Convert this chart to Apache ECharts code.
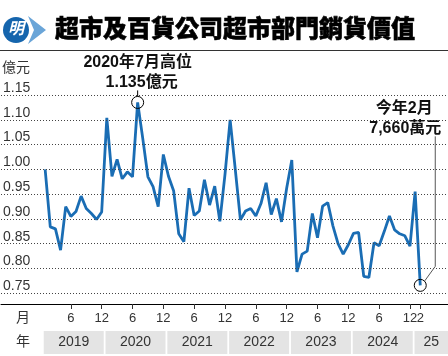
<!DOCTYPE html>
<html><head><meta charset="utf-8">
<script src="https://cdn.jsdelivr.net/npm/echarts@6/dist/echarts.min.js"></script>
<style>html,body{margin:0;padding:0;background:#fff}#c{width:448px;height:356px}</style>
</head><body><div id="c"></div>
<script>
// ---- data ----
const values = [
  1.000, 0.884, 0.880, 0.837, 0.925, 0.905, 0.915, 0.946, 0.921, 0.911, 0.899, 0.914, // 2019
  1.104, 0.986, 1.020, 0.981, 0.995, 0.985, 1.135, 1.062, 0.985, 0.965, 0.925, 1.030, // 2020
  0.986, 0.957, 0.870, 0.854, 0.962, 0.907, 0.916, 0.979, 0.928, 0.966, 0.895, 0.990, // 2021
  1.100, 1.000, 0.898, 0.916, 0.921, 0.906, 0.931, 0.973, 0.909, 0.941, 0.894, 0.962, // 2022
  1.019, 0.793, 0.829, 0.835, 0.911, 0.862, 0.926, 0.933, 0.886, 0.850, 0.829, 0.848, // 2023
  0.871, 0.873, 0.784, 0.782, 0.852, 0.846, 0.875, 0.906, 0.878, 0.870, 0.866, 0.845, // 2024
  0.955, 0.766 // 2025
];
const monthTickIdx = [5, 11, 17, 23, 29, 35, 41, 47, 53, 59, 65, 71];
const monthTickLabels = ['6','12','6','12','6','12','6','12','6','12','6','12'];
const lastTickIdx = [73];
const lastTickLabels = ['2'];
const yearLabels = ['2019','2020','2021','2022','2023','2024','25'];
const yearStart = [0, 12, 24, 36, 48, 60, 72];
const yearEnd = [11, 23, 35, 47, 59, 71, 83];
const yTicks = [0.75, 0.80, 0.85, 0.90, 0.95, 1.00, 1.05, 1.10, 1.15];
const peakIdx = 18, latestIdx = 73;

// ---- chart ----
const X_MIN = -8.592, X_MAX = 78.398;
const Y_MIN = 0.7284, Y_MAX = 1.2206;
const FONT = "'Liberation Sans','Noto Sans CJK TC',sans-serif";
const chart = echarts.init(document.getElementById('c'), null, {renderer: 'canvas'});
const lineData = values.map((v, i) => [i, v]);
const labelMap = {};
monthTickIdx.forEach((m, k) => labelMap[m] = monthTickLabels[k]);
lastTickIdx.forEach((m, k) => labelMap[m] = lastTickLabels[k]);

function monthAxis(ticks, showLine) {
  return {type: 'value', gridIndex: 0, min: X_MIN, max: X_MAX, position: 'bottom', offset: 0,
    axisLine: {show: showLine, onZero: false, lineStyle: {color: '#000', width: 1}},
    axisTick: {show: true, customValues: ticks, length: 5, lineStyle: {color: '#333'}},
    axisLabel: {customValues: ticks, formatter: v => labelMap[Math.round(v)] || '',
                margin: 8, fontSize: 13, color: '#333', fontFamily: FONT, hideOverlap: false},
    splitLine: {show: false}};
}

chart.setOption({
  animation: false,
  backgroundColor: '#fff',
  textStyle: {fontFamily: FONT},
  grid: [
    {left: 0, right: 0, top: 60, bottom: 52},
    {left: 0, right: 0, top: 331, height: 23}
  ],
  xAxis: [
    monthAxis(monthTickIdx, true),
    {type: 'value', gridIndex: 1, min: X_MIN, max: X_MAX, show: false},
    monthAxis(lastTickIdx, false)
  ],
  yAxis: [
    {type: 'value', gridIndex: 0, min: Y_MIN, max: Y_MAX,
     axisLine: {show: false}, axisTick: {show: false}, splitLine: {show: false},
     axisLabel: {customValues: yTicks, inside: true, verticalAlign: 'bottom', margin: 2,
                 formatter: v => v.toFixed(2), fontSize: 14, color: '#333', fontFamily: FONT}},
    {type: 'value', gridIndex: 1, min: 0, max: 1, show: false}
  ],
  series: [
    {type: 'line', xAxisIndex: 0, yAxisIndex: 0, data: [], z: 1, silent: true,
     markLine: {silent: true, symbol: ['none', 'none'], label: {show: false},
                lineStyle: {type: [1, 2], color: '#444', width: 1},
                data: yTicks.map(v => ({yAxis: v}))}},
    {type: 'line', xAxisIndex: 0, yAxisIndex: 0, data: lineData, z: 3,
     showSymbol: false, lineStyle: {color: '#1a6db4', width: 2.8}, itemStyle: {color: '#1a6db4'}},
    {type: 'custom', xAxisIndex: 1, yAxisIndex: 1,
     data: yearLabels.map((n, k) => [yearStart[k], yearEnd[k], n]),
     renderItem: function (params, api) {
       const s = api.coord([api.value(0) - 0.1, 1]);
       const e = api.coord([api.value(1) + 0.55, 0]);
       const ex = Math.min(e[0], api.getWidth());
       return {type: 'group', children: [
         {type: 'rect', shape: {x: s[0], y: s[1], width: ex - s[0], height: e[1] - s[1]},
          style: {fill: '#e4e4e4'}},
         {type: 'text', style: {text: api.value(2), x: (s[0] + ex) / 2, y: (s[1] + e[1]) / 2,
          align: 'center', verticalAlign: 'middle', fill: '#333', font: '14px ' + FONT}}
       ]};
     }}
  ]
});

// ---- annotations & decorations ----
const pk = chart.convertToPixel({gridIndex: 0}, [peakIdx, values[peakIdx]]);
const lt = chart.convertToPixel({gridIndex: 0}, [latestIdx, values[latestIdx]]);
const bold16 = 'bold 16px ' + FONT;
chart.setOption({
  graphic: [
    // title divider
    {type: 'line', shape: {x1: 0, y1: 50.5, x2: 448, y2: 50.5}, style: {stroke: '#333', lineWidth: 1}},
    // logo
    {type: 'polygon', shape: {points: [[28, 16], [46, 30], [28, 44], [34, 30]]}, style: {fill: '#6aa5d8'}},
    {type: 'circle', shape: {cx: 16, cy: 30, r: 13}, style: {fill: '#1565ad'}},
    {type: 'text', style: {text: '明', x: 16, y: 30, align: 'center', verticalAlign: 'middle',
      fill: '#fff', font: 'bold italic 16px ' + FONT}},
    {type: 'text', style: {text: '超市及百貨公司超市部門銷貨價值', x: 55, y: 30, verticalAlign: 'middle',
      fill: '#000', font: '900 24px ' + FONT, stroke: '#000', lineWidth: 0.6}},
    // axis unit labels
    {type: 'text', style: {text: '億元', x: 2, y: 68, verticalAlign: 'middle', fill: '#333', font: '14px ' + FONT}},
    {type: 'text', style: {text: '月', x: 23, y: 318, align: 'center', verticalAlign: 'middle', fill: '#333', font: '14px ' + FONT}},
    {type: 'text', style: {text: '年', x: 23, y: 342.5, align: 'center', verticalAlign: 'middle', fill: '#333', font: '14px ' + FONT}},
    // peak annotation
    {type: 'circle', shape: {cx: pk[0], cy: pk[1], r: 6}, style: {fill: 'none', stroke: '#000', lineWidth: 1}, z: 10},
    {type: 'line', shape: {x1: pk[0], y1: pk[1] - 6, x2: pk[0], y2: pk[1] - 12}, style: {stroke: '#000', lineWidth: 1}, z: 10},
    {type: 'text', style: {text: '2020年7月高位', x: pk[0], y: pk[1] - 39.5, align: 'center', verticalAlign: 'middle',
      fill: '#111', font: bold16}, z: 10},
    {type: 'text', style: {text: '1.135億元', x: pk[0] + 4, y: pk[1] - 20, align: 'center', verticalAlign: 'middle',
      fill: '#111', font: bold16}, z: 10},
    // latest annotation
    {type: 'circle', shape: {cx: lt[0], cy: lt[1], r: 6}, style: {fill: 'none', stroke: '#000', lineWidth: 1}, z: 10},
    {type: 'polyline', shape: {points: [[lt[0] + 4.5, lt[1] - 4.5], [lt[0] + 15, lt[1] - 19], [lt[0] + 15, lt[1] - 149]]},
      style: {fill: 'none', stroke: '#555', lineWidth: 1}, z: 10},
    {type: 'text', style: {text: '今年2月', x: lt[0] - 16, y: lt[1] - 177, align: 'center', verticalAlign: 'middle',
      fill: '#111', font: bold16}, z: 10},
    {type: 'text', style: {text: '7,660萬元', x: lt[0] - 15, y: lt[1] - 157, align: 'center', verticalAlign: 'middle',
      fill: '#111', font: bold16}, z: 10}
  ]
});
</script></body></html>
